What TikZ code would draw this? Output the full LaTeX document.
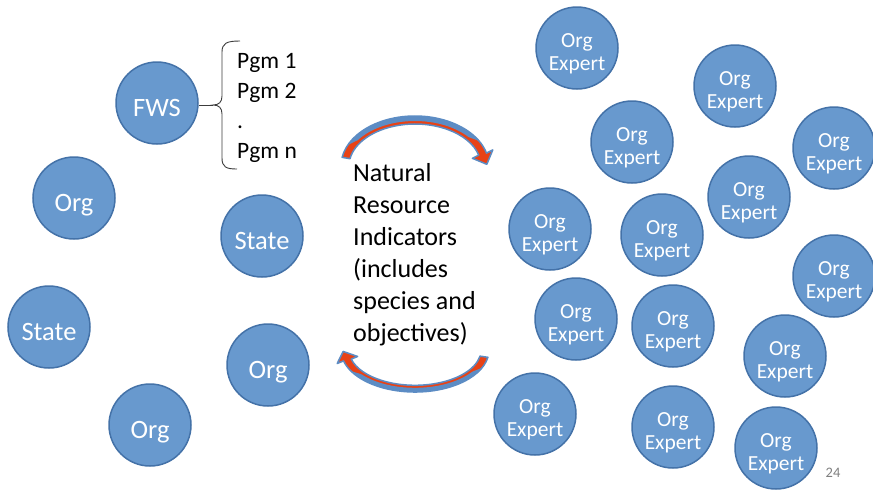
\documentclass[tikz,border=0pt]{standalone}
\usepackage{fontspec}
\setmainfont{Carlito}
\definecolor{circfill}{RGB}{104,153,206}
\definecolor{circedge}{RGB}{68,114,168}
\definecolor{arrred}{RGB}{232,66,22}
\definecolor{arrblue}{RGB}{92,140,196}
\definecolor{bracecol}{RGB}{60,60,60}
\newcommand{\upstrut}{\rule[-6pt]{0pt}{31.5pt}}
\tikzset{
  bubble/.style={circle, fill=circfill, draw=circedge, line width=1.5pt,
    minimum size=82pt, inner sep=0pt, text=white, align=center},
  bigbubble/.style={bubble, font=\fontsize{26.5}{28}\selectfont,
    execute at begin node={\rule[-6pt]{0pt}{38pt}}},
  expert/.style={bubble, font=\fontsize{21.5}{23.5}\selectfont},
  curvearrowbody/.style={fill=arrred, draw=arrblue, line width=1.5pt, line join=round},
  bracestyle/.style={draw=bracecol, line width=0.9pt},
}
\newcommand{\nriarrowshape}{%
  \path[curvearrowbody] (190:74 and 50) arc[start angle=190, end angle=345, x radius=74, y radius=50]
    -- (77.8,-16.1) -- (71.8,-1.7) -- (57.4,-7.7)
    -- (345:66 and 42) arc[start angle=345, end angle=190, x radius=66, y radius=42] -- cycle;
  \fill[arrblue] (205:74 and 50) arc[start angle=205, end angle=330, x radius=74, y radius=50]
    -- (320:70 and 45) arc[start angle=320, end angle=215, x radius=70, y radius=45] -- cycle;
}
\begin{document}
\begin{tikzpicture}[x=1pt, y=-1pt]
\useasboundingbox[fill=white] (0,0) rectangle (873,491);

% left group
\node[bigbubble] (fws) at (157,103) {FWS};
\node[bigbubble] (orgA) at (74,198) {Org};
\node[bigbubble] (stateA) at (49,327) {State};
\node[bigbubble] (orgB) at (150,425) {Org};
\node[bigbubble] (stateB) at (262,236) {State};
\node[bigbubble] (orgC) at (268,365) {Org};

% brace and program list
\coordinate (cusp) at (213,105);
\path[bracestyle] (240,41) .. controls (227,41) and (222,43) .. (222,52) -- (222,96)
  .. controls (222,102) and (219,105) .. (cusp)
  .. controls (219,105) and (222,108) .. (222,114) -- (222,158)
  .. controls (222,167) and (226,169) .. (237,169);
\draw[bracestyle] (fws.east |- cusp) -- (cusp);
\node[anchor=north west, align=left, inner sep=0pt, font=\fontsize{23.5}{30}\selectfont] (pgm) at (237,53)
  {Pgm 1\\Pgm 2\\.\\Pgm n};

% curved arrows
\begin{scope}[shift={(415,166)}]
  \nriarrowshape
\end{scope}
\begin{scope}[shift={(415,350)}, rotate=180, yscale=0.84]
  \nriarrowshape
\end{scope}

\node[anchor=north west, align=left, inner sep=0pt, font=\fontsize{26}{32}\selectfont] (nri) at (353,163)
  {Natural\\Resource\\Indicators\\(includes\\species and\\objectives)};

% experts
\node[expert] (e1) at (577,48) {\upstrut Org\\Expert};
\node[expert] (e2) at (735,86) {\upstrut Org\\Expert};
\node[expert] (e3) at (632,142) {\upstrut Org\\Expert};
\node[expert] (e4) at (834,148) {\upstrut Org\\Expert};
\node[expert] (e5) at (749,197) {\upstrut Org\\Expert};
\node[expert] (e6) at (550,229) {\upstrut Org\\Expert};
\node[expert] (e7) at (662,235) {\upstrut Org\\Expert};
\node[expert] (e8) at (834,276) {\upstrut Org\\Expert};
\node[expert] (e9) at (576,319) {\upstrut Org\\Expert};
\node[expert] (e10) at (673,326) {\upstrut Org\\Expert};
\node[expert] (e11) at (785,356) {\upstrut Org\\Expert};
\node[expert] (e12) at (535,414) {\upstrut Org\\Expert};
\node[expert] (e13) at (673,427) {\upstrut Org\\Expert};
\node[expert] (e14) at (776,448) {\upstrut Org\\Expert};

\node[text=gray, font=\fontsize{14.5}{16}\selectfont, inner sep=0pt] (pnum) at (833,473) {24};
\end{tikzpicture}
\end{document}
